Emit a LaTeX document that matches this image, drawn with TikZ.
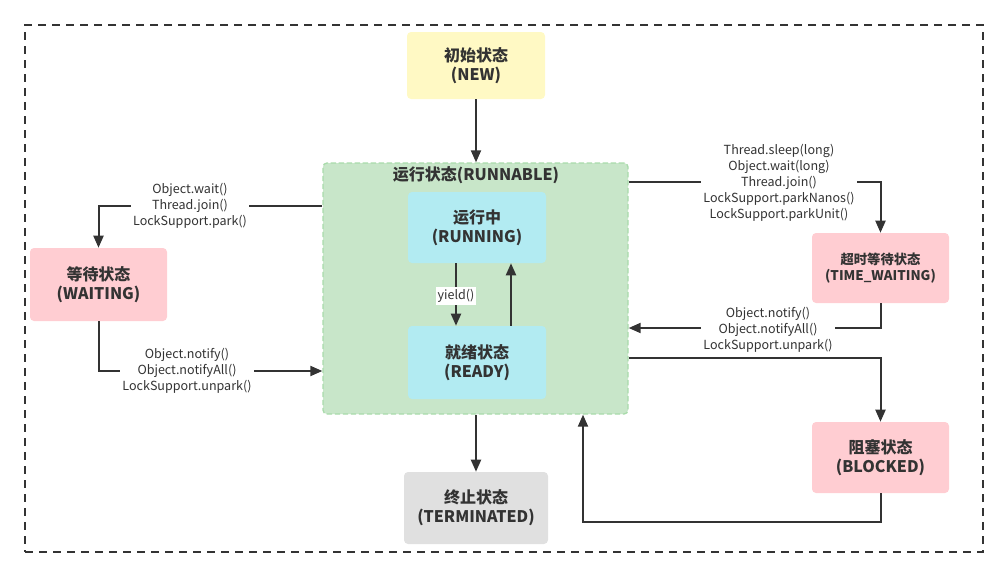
\documentclass[tikz,border=0pt]{standalone}
\usepackage{fontspec}
\setmainfont{Noto Sans CJK SC}
\usetikzlibrary{arrows.meta}
\definecolor{ink}{HTML}{333333}
\definecolor{newc}{HTML}{FFF9C4}
\definecolor{grn}{HTML}{C8E6C9}
\definecolor{grnb}{HTML}{A9DBAB}
\definecolor{cyan}{HTML}{B2EBF2}
\definecolor{pink}{HTML}{FFCDD2}
\definecolor{gry}{HTML}{E0E0E0}
\tikzset{
  box/.style={rounded corners=3pt, draw=none, align=center, text=ink, inner sep=0pt,
    font=\fontsize{12}{15}\selectfont\bfseries},
  arr/.style={draw=ink, line width=1.5pt, -{Triangle[length=9pt,width=7.5pt]}},
  lbl/.style={fill=white, text=ink, align=center, inner sep=1.5pt,
    font=\fontsize{9.4}{12}\selectfont},
}
\begin{document}
\begin{tikzpicture}[x=0.75pt,y=-0.75pt]
\useasboundingbox (0,0) rectangle (1008,578);
\node[draw=ink, line width=1.5pt, dash pattern=on 6pt off 4.5pt, minimum width=718.5pt, minimum height=395.25pt, inner sep=0pt] (frame) at (504,288.5) {};
% boxes
\node[box, fill=newc, minimum width=103.5pt, minimum height=50.25pt] (new) at (476,65.5) {\raisebox{-2pt}{\shortstack{初始状态\\(NEW)}}};
\node[box, fill=grn, draw=grnb, line width=1pt, dash pattern=on 4pt off 2pt, minimum width=228.75pt, minimum height=188.25pt] (run) at (475.5,288.5) {};
\node[text=ink, font=\fontsize{12}{14}\selectfont\bfseries, inner sep=0pt] (runtitle) at (476,175) {运行状态(RUNNABLE)};
\node[box, fill=cyan, minimum width=103.5pt, minimum height=53.25pt] (running) at (477,227.5) {\raisebox{-2pt}{\shortstack{运行中\\(RUNNING)}}};
\node[box, fill=cyan, minimum width=103.5pt, minimum height=54.75pt] (ready) at (477,362.5) {\raisebox{-2pt}{\shortstack{就绪状态\\(READY)}}};
\node[box, fill=gry, minimum width=108pt, minimum height=54pt] (term) at (476,508) {\raisebox{-2pt}{\shortstack{终止状态\\(TERMINATED)}}};
\node[box, fill=pink, minimum width=102.75pt, minimum height=54.75pt] (wait) at (98.5,284.5) {\raisebox{-2pt}{\shortstack{等待状态\\(WAITING)}}};
\node[box, fill=pink, minimum width=102.75pt, minimum height=52.5pt, font=\fontsize{10}{13}\selectfont\bfseries] (tw) at (880.5,268) {\raisebox{-1.5pt}{\shortstack{超时等待状态\\(TIME\_WAITING)}}};
\node[box, fill=pink, minimum width=102.75pt, minimum height=53.25pt] (blk) at (880.5,457.5) {\raisebox{-2pt}{\shortstack{阻塞状态\\(BLOCKED)}}};
% connectors
\draw[arr] (new.south) -- (new.south |- run.north);
\draw[arr] (term.north |- run.south) -- (term.north);
\draw[arr] (running.south -| 456,0) -- (ready.north -| 456,0);
\node[lbl] (yl) at (456,296) {yield()};
\draw[arr] (ready.north -| 511,0) -- (running.south -| 511,0);
% waiting
\draw[arr] (run.west |- 0,206) -| (wait.north);
\node[lbl] (l1) at (190,206) {Object.wait()\\Thread.join()\\LockSupport.park()};
\draw[arr] (wait.south) |- (run.west |- 0,371);
\node[lbl] (l2) at (187,371) {Object.notify()\\Object.notifyAll()\\LockSupport.unpark()};
% time waiting
\draw[arr] (run.east |- 0,182) -| (tw.north);
\node[lbl] (l3) at (779,183) {Thread.sleep(long)\\Object.wait(long)\\Thread.join()\\LockSupport.parkNanos()\\LockSupport.parkUnit()};
\draw[arr] (tw.south) |- (run.east |- 0,328);
\node[lbl] (l4) at (768,330) {Object.notify()\\Object.notifyAll()\\LockSupport.unpark()};
% blocked
\draw[arr] (run.east |- 0,358) -| (blk.north);
\coordinate (c1) at (583,522);
\draw[arr] (blk.south) |- (c1) -- (run.south -| c1);
\end{tikzpicture}
\end{document}
